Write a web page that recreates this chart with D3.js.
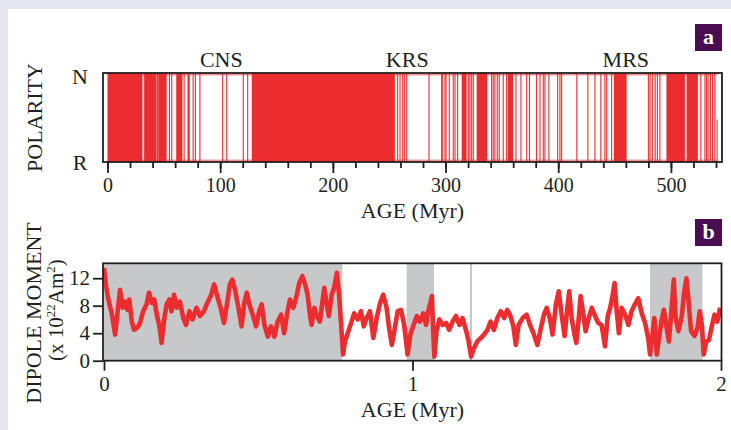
<!DOCTYPE html>
<html lang="en">
<head>
    <meta charset="UTF-8">
    <title>Polarity and dipole moment</title>
    <style>
        body { margin: 0; background: #e7e8ef; }
        svg { display: block; }
        text { font-family: "Liberation Serif", "Times New Roman", serif; fill: #231f20; }
    </style>
</head>
<body>
    <div id="chart"></div>

    <script src="https://d3js.org/d3.v7.min.js"></script>
    <script>
        const w = 731;
        const h = 430;
        const red = '#ec2d30';
        const ink = '#231f20';

        // panel a: polarity record, ages in Myr
        const denseBlocks = [
            [0, 31], [32.5, 43.5], [45, 52.5], [61, 66.5], [71, 73],
            [128, 255], [314.3, 318.7], [327.6, 337], [355.1, 360],
            [449.4, 460.7], [496, 512.4], [513.9, 523.9]
        ];
        const reversals = [
            44.3, 55, 57, 68, 76, 78, 82, 102.2, 105.8, 120.5, 124.4,
            257.5, 259.6, 262, 263.4, 265.5, 285.3, 296.5, 297.5, 299.5, 300.4,
            303.3, 306.8, 308.4, 310.7, 320.2, 321.6, 323.2, 324.6, 340.9,
            342.3, 343.8, 345.9, 347.6, 351.2, 354.2, 362.5, 366.9, 372, 374.5,
            380.8, 383.8, 386.7, 388.2, 391.7, 399.5, 401.5, 403, 416.5, 426.3,
            432.6, 437.8, 441.4, 443, 447.4, 480, 481.5, 483.5, 486, 488, 490.2,
            526.5, 530.2, 531.5, 533, 535, 537, 539
        ];
        const lastReversal = 541;
        const polarityLabels = ['N', 'R'];
        const superchrons = [
            { name: 'CNS', age: 101 },
            { name: 'KRS', age: 266 },
            { name: 'MRS', age: 460 }
        ];
        const polMinorTicks = d3.range(0, 541, 20);
        const polMajorTicks = [0, 100, 200, 300, 400, 500];

        // panel b: dipole moment over the last 2 Myr
        const normalIntervals = [[0, 0.7725], [0.981, 1.07], [1.186, 1.193], [1.77, 1.94]];
        const dipoleAge = [
            0.000, 0.006, 0.014, 0.025, 0.036, 0.043, 0.052, 0.061, 0.068, 0.076,
            0.082, 0.090, 0.097, 0.108, 0.117, 0.127, 0.138, 0.146, 0.155, 0.163,
            0.171, 0.179, 0.187, 0.194, 0.203, 0.212, 0.219, 0.227, 0.236, 0.246,
            0.257, 0.266, 0.277, 0.287, 0.300, 0.311, 0.324, 0.335, 0.346, 0.357,
            0.367, 0.378, 0.389, 0.400, 0.408, 0.416, 0.425, 0.435, 0.446, 0.454,
            0.463, 0.471, 0.482, 0.493, 0.503, 0.511, 0.520, 0.531, 0.541, 0.552,
            0.563, 0.574, 0.584, 0.595, 0.603, 0.614, 0.625, 0.633, 0.643, 0.652,
            0.660, 0.668, 0.673, 0.682, 0.690, 0.700, 0.708, 0.714, 0.722, 0.729,
            0.738, 0.747, 0.755, 0.762, 0.768, 0.775, 0.781, 0.790, 0.801, 0.811,
            0.822, 0.833, 0.842, 0.851, 0.862, 0.873, 0.884, 0.895, 0.905, 0.916,
            0.924, 0.933, 0.941, 0.952, 0.963, 0.973, 0.984, 0.993, 1.006, 1.014,
            1.024, 1.035, 1.044, 1.051, 1.059, 1.063, 1.067, 1.071, 1.078, 1.087,
            1.098, 1.109, 1.119, 1.130, 1.141, 1.152, 1.162, 1.173, 1.181, 1.190,
            1.199, 1.210, 1.221, 1.232, 1.243, 1.253, 1.264, 1.275, 1.286, 1.297,
            1.307, 1.316, 1.327, 1.335, 1.344, 1.357, 1.370, 1.381, 1.392, 1.405,
            1.415, 1.426, 1.435, 1.446, 1.454, 1.465, 1.474, 1.484, 1.493, 1.502,
            1.508, 1.516, 1.525, 1.531, 1.538, 1.545, 1.554, 1.561, 1.570, 1.581,
            1.592, 1.602, 1.613, 1.624, 1.633, 1.641, 1.649, 1.655, 1.662, 1.669,
            1.678, 1.689, 1.700, 1.710, 1.721, 1.732, 1.743, 1.754, 1.764, 1.770,
            1.777, 1.784, 1.792, 1.799, 1.808, 1.815, 1.824, 1.831, 1.840, 1.847,
            1.853, 1.862, 1.873, 1.881, 1.888, 1.894, 1.903, 1.914, 1.924, 1.931,
            1.938, 1.944, 1.952, 1.961, 1.971, 1.979, 1.988, 1.997
        ];
        const dipoleMoment = [
            13.5, 11.1, 8.9, 6.9, 3.8, 6.7, 10.3, 7.7, 8.6, 7.4,
            8.9, 5.7, 4.5, 4.8, 5.5, 7.2, 8.2, 9.9, 8.4, 8.9,
            6.7, 5.2, 2.6, 5.7, 8.2, 8.9, 7.2, 9.6, 7.7, 8.6,
            6.2, 5.2, 7.2, 6.0, 7.7, 6.5, 7.2, 8.4, 9.4, 11.1,
            9.4, 7.7, 5.5, 8.6, 11.1, 11.8, 10.3, 7.9, 5.0, 8.2,
            9.9, 8.2, 6.7, 5.0, 7.2, 8.2, 5.2, 3.5, 5.0, 3.5,
            5.7, 6.7, 4.0, 7.2, 8.9, 7.7, 9.6, 11.3, 12.3, 11.1,
            9.6, 6.5, 5.2, 7.7, 6.5, 5.7, 8.6, 10.6, 8.2, 6.5,
            9.6, 10.8, 12.8, 9.6, 5.7, 0.9, 2.8, 4.0, 5.5, 6.9,
            6.0, 7.2, 5.0, 6.2, 7.2, 3.3, 6.2, 8.4, 9.6, 7.7,
            4.8, 2.3, 4.3, 7.2, 7.4, 5.2, 0.9, 3.8, 5.5, 6.5,
            5.7, 6.9, 5.2, 7.2, 8.6, 9.4, 4.3, 0.6, 4.3, 6.0,
            5.2, 5.5, 4.5, 5.7, 6.5, 5.2, 6.2, 4.5, 3.0, 0.6,
            1.8, 2.8, 3.3, 3.8, 4.5, 5.7, 4.5, 6.2, 7.2, 6.2,
            7.4, 6.7, 5.0, 2.3, 5.2, 6.2, 6.7, 5.2, 4.0, 2.3,
            4.5, 6.7, 7.7, 6.0, 3.8, 8.2, 10.1, 6.5, 3.6, 7.7,
            10.1, 6.2, 3.8, 2.6, 5.7, 9.4, 6.7, 4.3, 6.0, 7.7,
            6.5, 5.5, 5.2, 2.1, 6.5, 7.7, 9.6, 11.3, 7.2, 4.0,
            7.7, 6.7, 5.2, 7.2, 8.2, 9.1, 6.9, 5.5, 3.3, 0.9,
            3.3, 6.2, 0.9, 3.3, 6.0, 7.4, 4.8, 2.8, 7.7, 11.8,
            6.2, 4.3, 6.5, 10.1, 12.0, 9.1, 4.3, 3.6, 4.8, 7.2,
            5.2, 0.9, 2.8, 3.0, 5.2, 6.7, 5.7, 7.7
        ];
        const dipXTicks = [0, 1, 2];
        const dipYTicks = [0, 4, 8, 12];

        const svg = d3.select('#chart')
            .append('svg')
            .attr('width', w)
            .attr('height', h);

        // white card on light page
        svg.append('rect')
            .attr('x', 8).attr('y', 9)
            .attr('width', w - 8).attr('height', h - 9)
            .attr('fill', '#fff');

        // ---------- panel a ----------
        const polTop = 73, polBottom = 162;
        const polX = d3.scaleLinear().domain([0, 540]).range([107.5, 716]);
        const polY = d3.scalePoint().domain(polarityLabels).range([polTop, polBottom]);

        const pol = svg.append('g').attr('id', 'polarity');

        pol.selectAll('.block')
            .data(denseBlocks)
            .enter()
            .append('rect')
            .attr('class', 'block')
            .attr('x', d => polX(d[0]))
            .attr('width', d => polX(d[1]) - polX(d[0]))
            .attr('y', polTop)
            .attr('height', polBottom - polTop)
            .attr('fill', red);

        pol.selectAll('.rev')
            .data(reversals)
            .enter()
            .append('line')
            .attr('class', 'rev')
            .attr('x1', d => polX(d)).attr('x2', d => polX(d))
            .attr('y1', polTop).attr('y2', polBottom)
            .attr('stroke', red)
            .attr('stroke-width', 1.1);

        pol.append('line')
            .attr('x1', polX(lastReversal)).attr('x2', polX(lastReversal))
            .attr('y1', (polTop + polBottom) / 2 + 2).attr('y2', polBottom)
            .attr('stroke', red)
            .attr('stroke-width', 1);

        // N and R levels
        pol.selectAll('.level')
            .data(polarityLabels)
            .enter()
            .append('line')
            .attr('class', 'level')
            .attr('x1', polX(0)).attr('x2', polX(lastReversal))
            .attr('y1', (d, i) => polY(d) + (i === 0 ? 1.8 : -1.8))
            .attr('y2', (d, i) => polY(d) + (i === 0 ? 1.8 : -1.8))
            .attr('stroke', red)
            .attr('stroke-opacity', 0.75)
            .attr('stroke-width', 1);

        pol.append('rect')
            .attr('x', 103).attr('y', polTop)
            .attr('width', 619).attr('height', polBottom - polTop)
            .attr('fill', 'none')
            .attr('stroke', ink)
            .attr('stroke-width', 1.8);

        const styleAxis = g => {
            g.select('.domain').remove();
            g.selectAll('.tick line').attr('stroke', ink).attr('stroke-width', 1.8);
            g.selectAll('text').attr('font-size', 21).attr('fill', ink)
                .style('font-family', '"Liberation Serif", serif');
        };

        svg.append('g')
            .attr('transform', `translate(0, ${polBottom})`)
            .call(d3.axisBottom(polX).tickValues(polMinorTicks).tickSize(6).tickFormat(''))
            .call(styleAxis);
        svg.append('g')
            .attr('transform', `translate(0, ${polBottom})`)
            .call(d3.axisBottom(polX).tickValues(polMajorTicks).tickSize(11).tickPadding(5))
            .call(styleAxis)
            .call(g => g.selectAll('text').attr('font-size', 20));

        pol.selectAll('.pol-label')
            .data(polarityLabels)
            .enter()
            .append('text')
            .attr('class', 'pol-label')
            .attr('x', 80)
            .attr('y', (d, i) => polY(d) + (i === 0 ? 3.5 : 0))
            .attr('dy', '0.35em')
            .attr('text-anchor', 'middle')
            .attr('font-size', 22)
            .text(d => d);

        pol.selectAll('.chron')
            .data(superchrons)
            .enter()
            .append('text')
            .attr('class', 'chron')
            .attr('x', d => polX(d.age))
            .attr('y', 66.5)
            .attr('text-anchor', 'middle')
            .attr('font-size', 22)
            .text(d => d.name);

        svg.append('text')
            .attr('transform', 'translate(42, 117.5) rotate(-90)')
            .attr('text-anchor', 'middle')
            .attr('font-size', 22)
            .text('POLARITY');

        svg.append('text')
            .attr('x', 412.5).attr('y', 217.5)
            .attr('text-anchor', 'middle')
            .attr('font-size', 22)
            .text('AGE (Myr)');

        // ---------- panel b ----------
        const dipTop = 263.3, dipBottom = 360.7;
        const dipX = d3.scaleLinear().domain([0, 2]).range([104, 721]);
        const dipY = d3.scaleLinear().domain([0, 14.17]).range([dipBottom, dipTop]);

        const dip = svg.append('g').attr('id', 'dipole');

        dip.append('clipPath').attr('id', 'dip-clip')
            .append('rect')
            .attr('x', 103).attr('y', dipTop)
            .attr('width', 618.5).attr('height', dipBottom - dipTop);

        dip.selectAll('.normal')
            .data(normalIntervals)
            .enter()
            .append('rect')
            .attr('class', 'normal')
            .attr('x', d => dipX(d[0]))
            .attr('width', d => dipX(d[1]) - dipX(d[0]))
            .attr('y', dipTop)
            .attr('height', dipBottom - dipTop)
            .attr('fill', '#c7c8ca');

        const dipData = dipoleAge.map((a, i) => ({ age: a, m: dipoleMoment[i] }));
        const line = d3.line()
            .x(d => dipX(d.age))
            .y(d => dipY(d.m));

        dip.append('path')
            .datum(dipData)
            .attr('d', line)
            .attr('clip-path', 'url(#dip-clip)')
            .attr('fill', 'none')
            .attr('stroke', red)
            .attr('stroke-width', 4.6)
            .attr('stroke-linejoin', 'round');

        dip.append('rect')
            .attr('x', 103).attr('y', dipTop)
            .attr('width', 618.5).attr('height', dipBottom - dipTop)
            .attr('fill', 'none')
            .attr('stroke', ink)
            .attr('stroke-width', 1.8);

        svg.append('g')
            .attr('transform', `translate(0, ${dipBottom})`)
            .call(d3.axisBottom(dipX).tickValues(dipXTicks).tickSize(10).tickPadding(5).tickFormat(d3.format('d')))
            .call(styleAxis);
        svg.append('g')
            .attr('transform', 'translate(103, 0)')
            .call(d3.axisLeft(dipY).tickValues(dipYTicks).tickSize(10).tickPadding(3))
            .call(styleAxis);

        svg.append('text')
            .attr('transform', 'translate(41, 313) rotate(-90)')
            .attr('text-anchor', 'middle')
            .attr('font-size', 22)
            .text('DIPOLE MOMENT');

        const unit = svg.append('text')
            .attr('transform', 'translate(63, 310) rotate(-90)')
            .attr('text-anchor', 'middle')
            .attr('font-size', 21);
        unit.append('tspan').text('(x 10');
        unit.append('tspan').attr('font-size', 13).attr('dy', -8).text('22');
        unit.append('tspan').attr('dy', 8).text('Am');
        unit.append('tspan').attr('font-size', 13).attr('dy', -8).text('2');
        unit.append('tspan').attr('dy', 8).text(')');

        svg.append('text')
            .attr('x', 412.5).attr('y', 416.5)
            .attr('text-anchor', 'middle')
            .attr('font-size', 22)
            .text('AGE (Myr)');

        // panel badges
        const badges = [{ label: 'a', y: 24 }, { label: 'b', y: 219 }];
        const badge = svg.selectAll('.badge')
            .data(badges)
            .enter()
            .append('g')
            .attr('class', 'badge')
            .attr('transform', d => `translate(695, ${d.y})`);
        badge.append('rect')
            .attr('width', 27).attr('height', 27)
            .attr('fill', '#4a0d4f');
        badge.append('text')
            .attr('x', 13.5).attr('y', 20)
            .attr('text-anchor', 'middle')
            .attr('font-size', 22)
            .attr('font-weight', 'bold')
            .style('fill', '#fff')
            .text(d => d.label);
    </script>
</body>
</html>
